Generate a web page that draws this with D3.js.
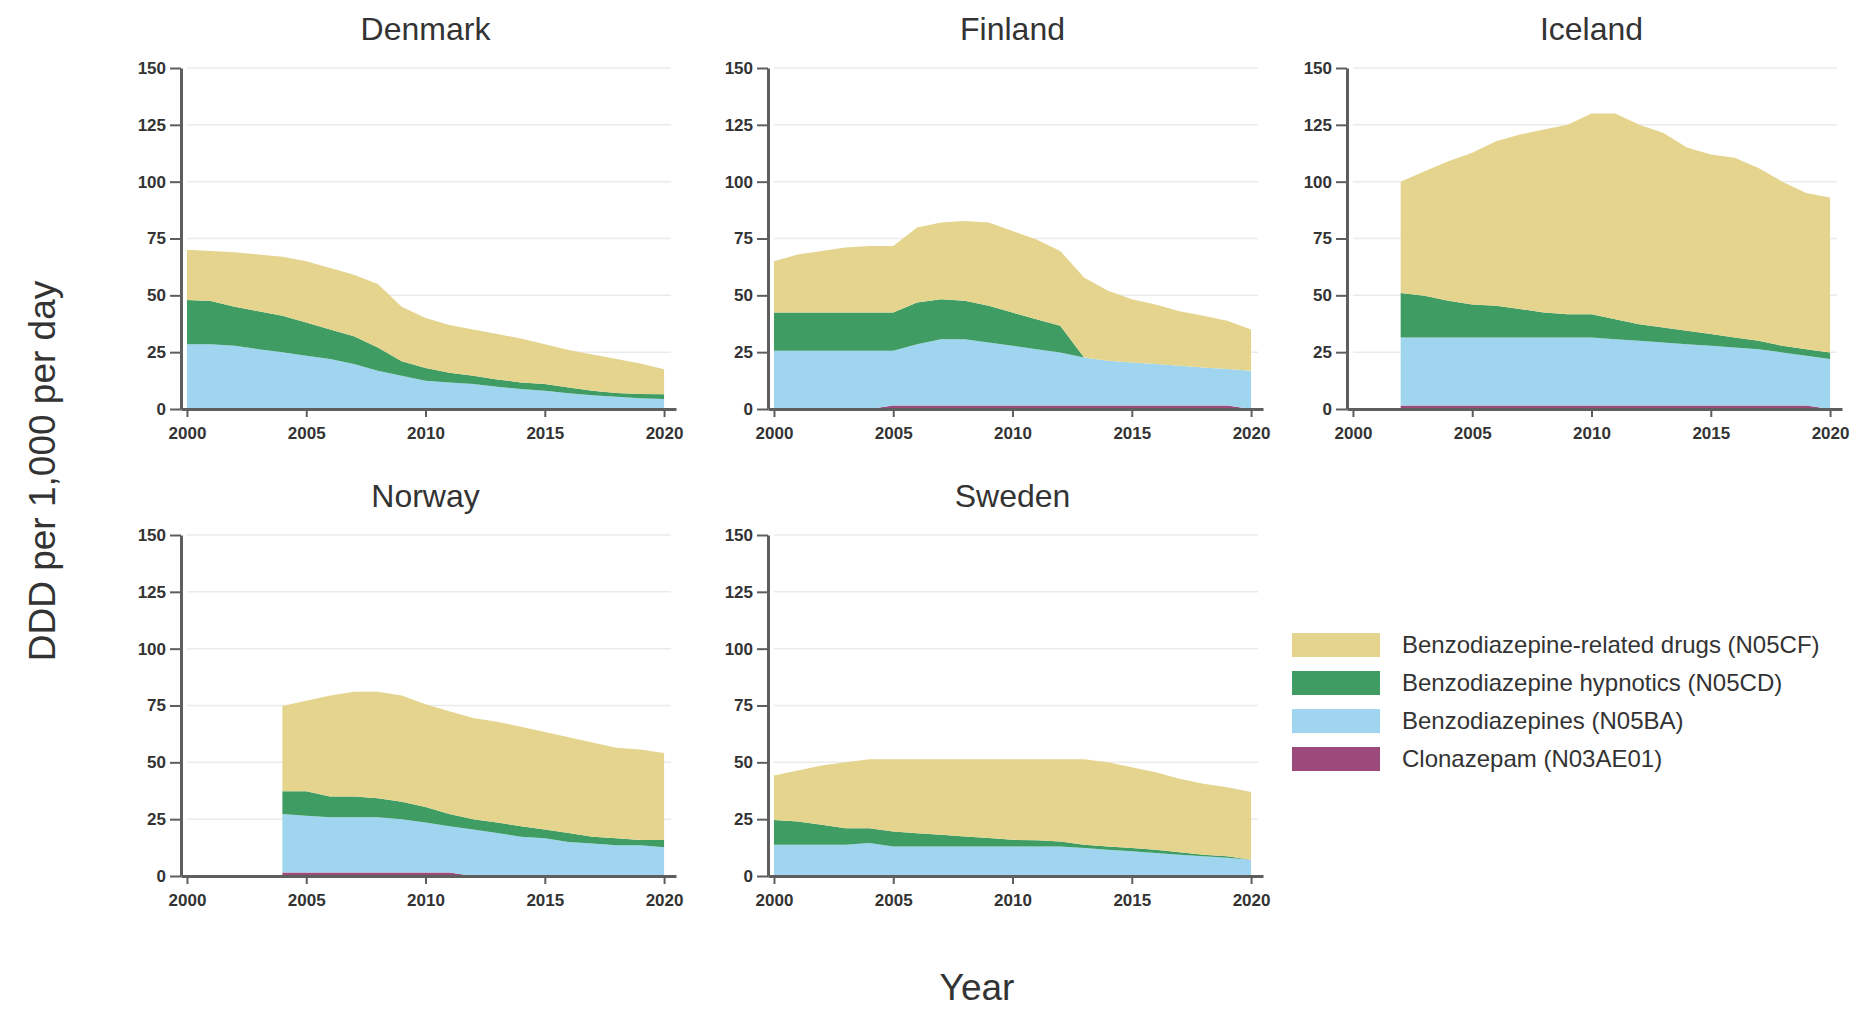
<!DOCTYPE html>
<html>
<head>
<meta charset="utf-8">
<script src="https://cdn.jsdelivr.net/npm/d3@7"></script>
<style>
  body { margin: 0; background: #fff; }
  svg { display: block; font-family: "Liberation Sans", Arial, sans-serif; }
</style>
</head>
<body>
<svg id="chart"></svg>
<script>
// years on the x axis
const years = [2000, 2001, 2002, 2003, 2004, 2005, 2006, 2007, 2008, 2009, 2010,
               2011, 2012, 2013, 2014, 2015, 2016, 2017, 2018, 2019, 2020];

const seriesKeys = ["clon", "benzo", "hyp", "zdrug"];
const seriesLabels = ["Clonazepam (N03AE01)", "Benzodiazepines (N05BA)",
                      "Benzodiazepine hypnotics (N05CD)", "Benzodiazepine-related drugs (N05CF)"];
const seriesColors = ["#9c4a7b", "#9fd5ef", "#3f9c62", "#e4d48e"];

// DDD per 1,000 per day (null = no data)
const denmarkClon  = [0,0,0,0,0,0,0,0,0,0,0,0,0,0,0,0,0,0,0,0,0];
const denmarkBenzo = [28.5,28.5,27.8,26.3,25,23.4,22,19.8,16.8,14.6,12.4,11.7,11,9.8,8.8,8,6.9,6.1,5.4,4.7,4.4];
const denmarkHyp   = [19.5,19,17.2,16.7,16,14.6,13,12.2,10.2,6.4,5.6,4.3,3.6,3.2,2.9,3,2.6,1.9,1.6,1.9,2.1];
const denmarkZ     = [22,22,24,25,26,27,27,27,28,24,22,21,20.4,20,19.3,17.5,16.5,16,15,13.4,11];

const finlandClon  = [0,0,0,0,0,1.5,1.5,1.5,1.5,1.5,1.5,1.5,1.5,1.5,1.5,1.5,1.5,1.5,1.5,1.5,0];
const finlandBenzo = [25.6,25.6,25.6,25.6,25.6,24.1,27,29.2,29.2,27.8,26.3,24.8,23.4,21.2,19.7,19,18.3,17.5,16.8,16.1,16.8];
const finlandHyp   = [16.8,16.8,16.8,16.8,16.8,16.8,18.3,17.6,16.9,16.1,14.6,13.2,11.7,0,0,0,0,0,0,0,0];
const finlandZ     = [22.6,25.6,27.1,28.6,29.3,29.3,33,33.7,35.1,36.6,35.9,35.1,32.9,35.1,30.8,27.8,26.2,24,22.7,21.2,18.2];

const icelandClon  = [null,null,1.5,1.5,1.5,1.5,1.5,1.5,1.5,1.5,1.5,1.5,1.5,1.5,1.5,1.5,1.5,1.5,1.5,1.5,0];
const icelandBenzo = [null,null,30,30,30,30,30,30,30,30,30,29.2,28.5,27.8,27,26.3,25.5,24.8,23.4,21.9,22];
const icelandHyp   = [null,null,19.5,18.3,16.1,14.5,13.9,12.5,10.9,10.2,10.2,8.8,7.3,6.6,5.9,5.2,4.5,3.7,2.9,2.9,2.9];
const icelandZ     = [null,null,49,54.8,61.4,66.7,72.4,76.7,80.6,83.3,88.3,90.5,87.7,85.6,80.6,79,79,76,72.2,68.7,68.1];

const norwayClon  = [null,null,null,null,1.5,1.5,1.5,1.5,1.5,1.5,1.5,1.5,0,0,0,0,0,0,0,0,0];
const norwayBenzo = [null,null,null,null,25.8,25,24.3,24.3,24.3,23.5,22,20.4,20.4,18.9,17.3,16.6,15,14.3,13.5,13.5,12.7];
const norwayHyp   = [null,null,null,null,10,10.8,9.2,9.2,8.4,7.7,6.9,5.4,4.6,4.6,4.6,3.8,3.9,3,3.1,2.3,3.1];
const norwayZ     = [null,null,null,null,37.5,39.8,44.4,46,46.8,46.7,45.2,45.2,44.5,44.4,43.7,42.9,42.1,41.4,39.8,39.9,38.3];

const swedenClon  = [0,0,0,0,0,0,0,0,0,0,0,0,0,0,0,0,0,0,0,0,0];
const swedenBenzo = [13.8,13.8,13.8,13.8,14.5,13,13,13,13,13,13,13,13,12.3,11.6,10.9,10.1,9.4,8.7,8,7.2];
const swedenHyp   = [10.8,10.2,8.7,7.2,6.5,6.6,5.8,5.1,4.4,3.7,2.9,2.7,2.2,1.5,1.4,1.4,1.5,1,0.7,0.7,0];
const swedenZ     = [19.6,22.4,26.1,29,30.4,31.8,32.6,33.3,34,34.7,35.5,35.7,36.2,37.6,37,35.5,34,32.4,31.2,30.3,29.8];

const countries = [
  {name: "Denmark", clon: denmarkClon, benzo: denmarkBenzo, hyp: denmarkHyp, zdrug: denmarkZ, left: 181, top: 68},
  {name: "Finland", clon: finlandClon, benzo: finlandBenzo, hyp: finlandHyp, zdrug: finlandZ, left: 768, top: 68},
  {name: "Iceland", clon: icelandClon, benzo: icelandBenzo, hyp: icelandHyp, zdrug: icelandZ, left: 1347, top: 68},
  {name: "Norway",  clon: norwayClon,  benzo: norwayBenzo,  hyp: norwayHyp,  zdrug: norwayZ,  left: 181, top: 535},
  {name: "Sweden",  clon: swedenClon,  benzo: swedenBenzo,  hyp: swedenHyp,  zdrug: swedenZ,  left: 768, top: 535},
];

const yTicks = [0, 25, 50, 75, 100, 125, 150];
const xTicks = [2000, 2005, 2010, 2015, 2020];

const width = 1869, height = 1009;
const pw = 495, ph = 341;
const axisColor = "#5e5e5e", textColor = "#333";

const svg = d3.select("#chart")
    .attr("width", width)
    .attr("height", height)
    .attr("viewBox", [0, 0, width, height]);

const x = d3.scaleLinear().domain([1999.75, 2020.5]).range([0, pw]);
const y = d3.scaleLinear().domain([0, 150]).range([ph, 0]);

const stack = d3.stack().keys(seriesKeys).value((d, k) => d[k] == null ? 0 : d[k]);

const area = d3.area()
    .defined(d => d.data.zdrug != null)
    .x(d => x(d.data.year))
    .y0(d => y(d[0]))
    .y1(d => y(d[1]));

countries.forEach(c => {
  const rows = years.map((yr, i) => ({
    year: yr, clon: c.clon[i], benzo: c.benzo[i], hyp: c.hyp[i], zdrug: c.zdrug[i]
  }));
  const layers = stack(rows);

  const g = svg.append("g").attr("transform", `translate(${c.left},${c.top})`);

  // gridlines
  g.append("g").selectAll("line")
    .data(yTicks.filter(t => t > 0))
    .join("line")
    .attr("x1", 6).attr("x2", 490)
    .attr("y1", d => y(d)).attr("y2", d => y(d))
    .attr("stroke", "#ebebeb")
    .attr("stroke-width", 1.5);

  g.append("g").selectAll("path")
    .data(layers)
    .join("path")
    .attr("fill", (d, i) => seriesColors[i])
    .attr("d", area);

  const yAxis = g.append("g")
    .call(d3.axisLeft(y).tickValues(yTicks).tickSize(11).tickPadding(4).tickSizeOuter(0));
  const xAxis = g.append("g")
    .attr("transform", `translate(0,${ph})`)
    .call(d3.axisBottom(x).tickValues(xTicks).tickFormat(d3.format("d"))
      .tickSize(8).tickPadding(10).tickSizeOuter(0));

  [yAxis, xAxis].forEach(a => {
    a.select(".domain").attr("stroke", axisColor).attr("stroke-width", 3);
    a.selectAll(".tick line").attr("stroke", axisColor).attr("stroke-width", 2);
    a.selectAll(".tick text").attr("fill", textColor)
      .attr("font-size", 17).attr("font-weight", "bold")
      .attr("font-family", "'Liberation Sans', Arial, sans-serif");
  });

  g.append("text")
    .attr("x", (x(2000) + x(2020)) / 2)
    .attr("y", -28)
    .attr("text-anchor", "middle")
    .attr("fill", textColor)
    .attr("font-size", 32)
    .text(c.name);
});

// legend (top item first)
const legend = svg.append("g").attr("transform", "translate(1292,645)");
const legendOrder = [3, 2, 1, 0];
legendOrder.forEach((k, i) => {
  const row = legend.append("g").attr("transform", `translate(0,${i * 38})`);
  row.append("rect")
    .attr("x", 0).attr("y", -12)
    .attr("width", 88).attr("height", 24)
    .attr("fill", seriesColors[k]);
  row.append("text")
    .attr("x", 110).attr("y", 0)
    .attr("dy", "0.35em")
    .attr("fill", textColor)
    .attr("font-size", 24)
    .text(seriesLabels[k]);
});

// axis titles
svg.append("text")
  .attr("transform", "translate(42,471) rotate(-90)")
  .attr("text-anchor", "middle")
  .attr("dy", "0.35em")
  .attr("fill", textColor)
  .attr("font-size", 37)
  .text("DDD per 1,000 per day");

svg.append("text")
  .attr("x", 977).attr("y", 987)
  .attr("dy", "0.35em")
  .attr("text-anchor", "middle")
  .attr("fill", textColor)
  .attr("font-size", 37)
  .text("Year");
</script>
</body>
</html>
